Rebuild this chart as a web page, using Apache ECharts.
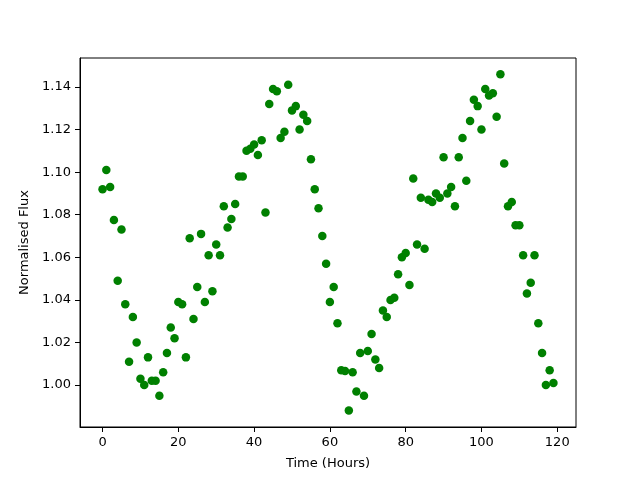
<!DOCTYPE html>
<html lang="en">
  <head>
    <meta charset="UTF-8" />
    <script src="https://cdn.jsdelivr.net/npm/echarts@6/dist/echarts.min.js"></script>
    <title>Flux</title>
    <style>
      html, body { margin: 0; padding: 0; background: #fff; }
      #app { width: 640px; height: 480px; }
    </style>
  </head>
  <body>
    <div id="app"></div>
    <script>
      // time of each sample, hours
      const hours = [
        0, 1, 2, 3, 4, 5, 6, 7, 8, 9, 10, 11, 12, 13, 14, 15, 16, 17, 18, 19,
        20, 21, 22, 23, 24, 25, 26, 27, 28, 29, 30, 31, 32, 33, 34, 35, 36, 37, 38, 39,
        40, 41, 42, 43, 44, 45, 46, 47, 48, 49, 50, 51, 52, 53, 54, 55, 56, 57, 58, 59,
        60, 61, 62, 63, 64, 65, 66, 67, 68, 69, 70, 71, 72, 73, 74, 75, 76, 77, 78, 79,
        80, 81, 82, 83, 84, 85, 86, 87, 88, 89, 90, 91, 92, 93, 94, 95, 96, 97, 98, 99,
        100, 101, 102, 103, 104, 105, 106, 107, 108, 109, 110, 111, 112, 113, 114, 115, 116, 117, 118, 119,
      ];
      // normalised flux
      const flux = [
        1.092, 1.101, 1.093, 1.0775, 1.049, 1.073, 1.038, 1.011, 1.032, 1.020,
        1.003, 1.000, 1.013, 1.002, 1.002, 0.995, 1.006, 1.015, 1.027, 1.022,
        1.039, 1.038, 1.013, 1.069, 1.031, 1.046, 1.071, 1.039, 1.061, 1.044,
        1.066, 1.061, 1.084, 1.074, 1.078, 1.085, 1.098, 1.098, 1.110, 1.111,
        1.113, 1.108, 1.115, 1.081, 1.132, 1.139, 1.138, 1.116, 1.119, 1.141,
        1.129, 1.131, 1.120, 1.127, 1.124, 1.106, 1.092, 1.083, 1.070, 1.057,
        1.039, 1.046, 1.029, 1.007, 1.0066, 0.988, 1.006, 0.997, 1.015, 0.995,
        1.016, 1.024, 1.012, 1.008, 1.035, 1.032, 1.040, 1.041, 1.052, 1.060,
        1.062, 1.047, 1.097, 1.066, 1.088, 1.064, 1.087, 1.086, 1.090, 1.088,
        1.107, 1.090, 1.093, 1.084, 1.107, 1.116, 1.096, 1.124, 1.134, 1.131,
        1.120, 1.139, 1.136, 1.137, 1.126, 1.146, 1.104, 1.084, 1.086, 1.075,
        1.075, 1.061, 1.043, 1.048, 1.061, 1.029, 1.015, 1.000, 1.007, 1.001,
      ];
      const xTicks = [0, 20, 40, 60, 80, 100, 120];
      const yTicks = [1.0, 1.02, 1.04, 1.06, 1.08, 1.1, 1.12, 1.14];

      const points = hours.map((h, i) => [h, flux[i]]);
      const font = "DejaVu Sans";

      const chart = echarts.init(document.getElementById("app"), null, { renderer: "canvas" });
      chart.setOption({
        animation: false,
        backgroundColor: "#fff",
        grid: {
          left: 80, right: 64, top: 58, bottom: 53,
          show: true, borderColor: "#000", borderWidth: 1,
        },
        xAxis: {
          type: "value",
          min: -5.95,
          max: 124.95,
          name: "Time (Hours)",
          nameLocation: "middle",
          nameGap: 30,
          nameTextStyle: { color: "#000", fontFamily: font, fontSize: 13 },
          splitLine: { show: false },
          axisLine: { show: true, onZero: false, lineStyle: { color: "#000" } },
          axisTick: { show: true, inside: false, length: 5, customValues: xTicks, lineStyle: { color: "#000" } },
          axisLabel: {
            customValues: xTicks,
            color: "#000", fontFamily: font, fontSize: 13, margin: 9,
          },
        },
        yAxis: {
          type: "value",
          min: 0.9803,
          max: 1.1536,
          name: "Normalised Flux",
          nameLocation: "middle",
          nameGap: 46,
          nameTextStyle: { color: "#000", fontFamily: font, fontSize: 13 },
          splitLine: { show: false },
          axisLine: { show: true, onZero: false, lineStyle: { color: "#000" } },
          axisTick: { show: true, inside: false, length: 5, customValues: yTicks, lineStyle: { color: "#000" } },
          axisLabel: {
            customValues: yTicks,
            color: "#000", fontFamily: font, fontSize: 13, margin: 9,
            formatter: (v) => v.toFixed(2),
          },
        },
        series: [
          {
            type: "scatter",
            data: points,
            symbol: "circle",
            symbolSize: 8.5,
            itemStyle: { color: "#008000", opacity: 1 },
          },
        ],
      });
    </script>
  </body>
</html>
